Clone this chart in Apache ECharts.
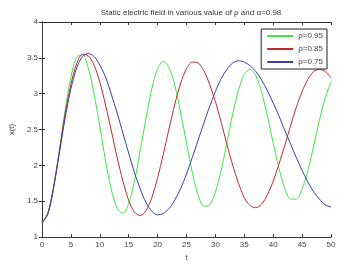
<!DOCTYPE html>
<html>
<head>
<meta charset="utf-8">
<script src="https://cdn.jsdelivr.net/npm/echarts@6/dist/echarts.min.js"></script>
<style>
  html, body { margin: 0; padding: 0; background: #fff; }
  #main { width: 351px; height: 267px; }
</style>
</head>
<body>
<div id="main"></div>
<script>
// 数据：t = 0..50，步长 1
const tValues = [];
for (let i = 0; i <= 50; i++) tValues.push(i);

const rho095 = [1.20, 1.33, 1.70, 2.21, 2.77, 3.23, 3.51, 3.54, 3.36, 3.00,
  2.54, 2.06, 1.66, 1.40, 1.33, 1.47, 1.78, 2.21, 2.66, 3.07,
  3.35, 3.45, 3.36, 3.11, 2.73, 2.31, 1.90, 1.59, 1.43, 1.45,
  1.63, 1.93, 2.32, 2.72, 3.05, 3.27, 3.34, 3.25, 3.02, 2.69,
  2.31, 1.96, 1.68, 1.53, 1.53, 1.67, 1.93, 2.27, 2.63, 2.94, 3.16];

const rho085 = [1.20, 1.33, 1.70, 2.20, 2.72, 3.13, 3.42, 3.55, 3.53, 3.40,
  3.16, 2.84, 2.48, 2.11, 1.78, 1.51, 1.35, 1.30, 1.37, 1.55,
  1.83, 2.16, 2.52, 2.86, 3.15, 3.35, 3.44, 3.43, 3.32, 3.13,
  2.89, 2.60, 2.29, 2.00, 1.75, 1.55, 1.44, 1.41, 1.46, 1.59,
  1.78, 2.02, 2.28, 2.55, 2.81, 3.03, 3.20, 3.31, 3.34, 3.31, 3.22];

const rho075 = [1.20, 1.32, 1.68, 2.17, 2.66, 3.07, 3.36, 3.52, 3.56, 3.52,
  3.40, 3.23, 2.99, 2.73, 2.45, 2.17, 1.90, 1.67, 1.48, 1.36,
  1.31, 1.33, 1.40, 1.52, 1.68, 1.88, 2.11, 2.35, 2.59, 2.82,
  3.03, 3.21, 3.34, 3.43, 3.46, 3.44, 3.39, 3.31, 3.19, 3.04,
  2.87, 2.69, 2.49, 2.30, 2.11, 1.93, 1.77, 1.63, 1.53, 1.45, 1.42];

const xTicks = [0, 5, 10, 15, 20, 25, 30, 35, 40, 45, 50];
const yTicks = [1, 1.5, 2, 2.5, 3, 3.5, 4];

const names = ['ρ=0.95', 'ρ=0.85', 'ρ=0.75'];
const colors = ['#3ee83e', '#c42630', '#3c3ca8'];

const font = 'Liberation Sans, Arial, sans-serif';
const axisColor = '#333';

function pairs(ys) {
  return tValues.map((t, i) => [t, ys[i]]);
}

const chart = echarts.init(document.getElementById('main'), null, { renderer: 'canvas' });

const baseX = {
  type: 'value',
  min: xTicks[0],
  max: xTicks[xTicks.length - 1],
  interval: 5,
  splitLine: { show: false },
  axisLine: { lineStyle: { color: axisColor, width: 1 } },
  axisTick: { inside: true, length: 3, lineStyle: { color: axisColor } }
};
const baseY = {
  type: 'value',
  min: yTicks[0],
  max: yTicks[yTicks.length - 1],
  interval: 0.5,
  splitLine: { show: false },
  axisLine: { show: true, lineStyle: { color: axisColor, width: 1 } },
  axisTick: { show: true, inside: true, length: 3, lineStyle: { color: axisColor } }
};

const option = {
  backgroundColor: '#fff',
  animation: false,
  title: {
    text: 'Static electric field in various value of ρ and α=0.98',
    left: 186,
    textAlign: 'center',
    top: 4,
    textStyle: { fontFamily: font, fontSize: 8, fontWeight: 'normal', color: '#333' }
  },
  grid: { left: 40, right: 20, top: 22, bottom: 21 },
  legend: {
    data: names,
    orient: 'vertical',
    right: 24,
    top: 29,
    itemWidth: 26,
    itemHeight: 2,
    itemGap: 5,
    padding: [3, 4, 3, 5],
    borderColor: '#222',
    borderWidth: 1,
    borderRadius: 0,
    backgroundColor: '#fff',
    textStyle: { fontFamily: font, fontSize: 8, color: '#444', padding: [0, 0, 0, 0] }
  },
  xAxis: [
    Object.assign({}, baseX, {
      position: 'bottom',
      name: 't',
      nameLocation: 'middle',
      nameGap: 13,
      nameTextStyle: { fontFamily: font, fontSize: 8, color: '#444' },
      axisLabel: { fontFamily: font, fontSize: 8, color: '#444', margin: 4 }
    }),
    Object.assign({}, baseX, { position: 'top', axisLabel: { show: false } })
  ],
  yAxis: [
    Object.assign({}, baseY, {
      position: 'left',
      name: 'x(t)',
      nameLocation: 'middle',
      nameGap: 18,
      nameTextStyle: { fontFamily: font, fontSize: 8, color: '#444' },
      axisLabel: { fontFamily: font, fontSize: 8, color: '#444', margin: 4 }
    }),
    Object.assign({}, baseY, { position: 'right', axisLabel: { show: false } })
  ],
  series: [rho095, rho085, rho075].map((ys, i) => ({
    name: names[i],
    type: 'line',
    xAxisIndex: 0,
    yAxisIndex: 0,
    data: pairs(ys),
    smooth: 0.3,
    symbol: 'none',
    color: colors[i],
    lineStyle: { width: 1, color: colors[i] }
  }))
};

chart.setOption(option);
</script>
</body>
</html>
